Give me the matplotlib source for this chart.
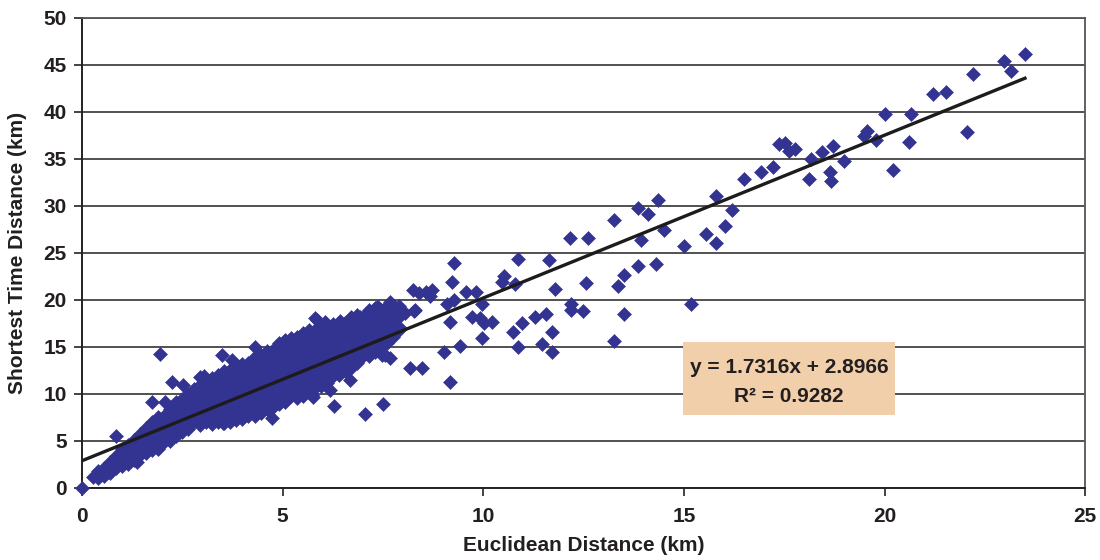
import matplotlib
matplotlib.use("Agg")
import matplotlib.pyplot as plt
from matplotlib.patches import Rectangle
import numpy as np

plt.rcParams['font.family'] = ['Liberation Sans', 'DejaVu Sans']

# dense body of the cloud, one column of points per x value
dense_cols = [
    (0.40, [1.1, 1.8]),
    (0.55, [1.3, 2.1]),
    (0.70, [1.6, 2.8]),
    (0.85, [2.1, 3.4]),
    (1.00, [2.3, 2.8, 4.2]),
    (1.15, [2.6, 3.5, 4.6]),
    (1.30, [3.0, 4.2, 5.1]),
    (1.45, [3.5, 4.9, 5.7]),
    (1.60, [3.7, 4.2, 5.6, 6.4]),
    (1.75, [4.0, 4.9, 6.3, 7.0]),
    (1.90, [4.2, 5.6, 7.0, 7.6]),
    (2.05, [4.9, 6.3, 7.7]),
    (2.20, [5.0, 5.6, 7.0, 8.4]),
    (2.35, [5.5, 6.3, 7.7, 9.1]),
    (2.50, [6.0, 7.0, 8.4, 9.5]),
    (2.65, [6.3, 7.7, 9.1, 10.0]),
    (2.80, [7.0, 8.4, 9.8, 10.5]),
    (2.95, [6.7, 7.7, 9.1, 10.5, 11.0]),
    (3.10, [7.0, 8.4, 9.8, 11.2]),
    (3.25, [6.8, 7.7, 9.1, 10.5, 11.7]),
    (3.40, [7.0, 8.4, 9.8, 11.2, 12.0]),
    (3.55, [6.9, 7.7, 9.1, 10.5, 11.9, 12.4]),
    (3.70, [7.0, 8.4, 9.8, 11.2, 12.6]),
    (3.85, [7.2, 7.7, 9.1, 10.5, 11.9, 12.9]),
    (4.00, [7.3, 8.4, 9.8, 11.2, 12.6, 13.2]),
    (4.15, [7.7, 9.1, 10.5, 11.9, 13.3]),
    (4.30, [7.7, 8.4, 9.8, 11.2, 12.6, 13.9]),
    (4.45, [8.0, 9.1, 10.5, 11.9, 13.3, 14.2]),
    (4.60, [8.4, 9.8, 11.2, 12.6, 14.0, 14.6]),
    (4.75, [8.6, 9.1, 10.5, 11.9, 13.3, 14.7]),
    (4.90, [8.9, 9.8, 11.2, 12.6, 14.0, 15.4]),
    (5.05, [9.1, 10.5, 11.9, 13.3, 14.7, 15.7]),
    (5.20, [9.8, 11.2, 12.6, 14.0, 15.4, 16.0]),
    (5.35, [9.6, 10.5, 11.9, 13.3, 14.7, 16.1]),
    (5.50, [9.8, 11.2, 12.6, 14.0, 15.4, 16.5]),
    (5.65, [10.5, 11.9, 13.3, 14.7, 16.1, 16.8]),
    (5.80, [10.6, 11.2, 12.6, 14.0, 15.4, 16.8]),
    (5.95, [10.9, 11.9, 13.3, 14.7, 16.1, 17.1]),
    (6.10, [11.2, 12.6, 14.0, 15.4, 16.8, 17.3]),
    (6.25, [11.9, 13.3, 14.7, 16.1, 17.4]),
    (6.40, [12.0, 12.6, 14.0, 15.4, 16.8, 17.6]),
    (6.55, [12.4, 13.3, 14.7, 16.1, 17.5]),
    (6.70, [12.8, 14.0, 15.4, 16.8, 18.2]),
    (6.85, [13.3, 14.7, 16.1, 17.5, 18.4]),
    (7.00, [14.0, 15.4, 16.8, 18.2]),
    (7.15, [14.0, 14.7, 16.1, 17.5, 18.9]),
    (7.30, [14.5, 15.4, 16.8, 18.2, 19.1]),
    (7.45, [14.9, 16.1, 17.5, 18.9]),
    (7.60, [15.4, 16.8, 18.2, 19.4]),
    (7.75, [16.1, 17.5, 18.9]),
    (7.90, [16.8, 18.2, 19.4]),
]

# scattered points outside the dense body
sparse_x = [0.0, 0.28, 0.86, 1.36, 1.74, 2.07, 1.95, 2.24, 2.53, 2.94, 3.03, 3.48, 3.73,
            4.31, 4.73, 4.69, 3.52, 5.73, 5.77, 5.81, 5.85, 6.06, 6.18, 6.27, 6.43, 6.43,
            6.68, 6.93, 7.06, 7.51, 7.47, 7.56, 7.68, 7.35, 7.39, 7.68, 7.85, 7.93,
            8.05, 8.28, 8.26, 8.39, 8.68, 8.72, 8.58, 8.30, 9.26, 9.22, 9.09, 9.26, 9.18,
            9.01, 9.43, 9.16, 8.18, 8.47, 9.58, 9.83, 9.97, 9.72, 9.93, 10.01, 10.22,
            9.97, 10.51, 10.47, 10.80, 10.86, 10.75, 10.96, 10.86, 11.30, 11.56, 11.46,
            11.71, 11.71, 11.65, 11.80, 12.15, 12.60, 12.19, 12.19, 12.48, 12.56, 13.25,
            13.35, 13.50, 15.19,
            13.25, 13.85, 14.10, 14.35, 14.50, 13.94, 13.85, 14.30, 13.50, 15.00, 15.54,
            15.79, 15.79, 16.03, 16.20, 16.49, 16.93, 17.22, 17.38, 17.53, 17.63, 17.78,
            18.13, 18.18, 18.43, 18.63, 18.67, 18.72, 18.99, 19.48, 19.57, 19.78, 20.02,
            20.21, 20.62, 20.66, 21.20, 21.52, 22.06, 22.21, 22.99, 23.16, 23.50]
sparse_y = [0.0, 1.2, 5.5, 2.8, 9.1, 9.2, 14.3, 11.3, 11.0, 11.8, 11.9, 14.1, 13.6,
            15.0, 7.4, 8.3, 6.9, 9.9, 9.7, 18.1, 17.9, 17.7, 10.4, 8.7, 13.1, 17.8,
            11.5, 18.2, 7.9, 8.9, 14.1, 14.1, 13.8, 19.3, 19.3, 19.8, 16.8, 17.0,
            18.6, 18.8, 21.1, 20.7, 20.4, 21.1, 20.9, 18.9, 23.9, 21.9, 19.6, 20.0, 17.7,
            14.5, 15.1, 11.3, 12.8, 12.8, 20.9, 20.9, 19.6, 18.2, 18.1, 17.5, 17.7,
            16.0, 22.5, 21.9, 21.7, 24.4, 16.6, 17.5, 15.0, 18.2, 18.5, 15.3,
            16.6, 14.5, 24.3, 21.2, 26.6, 26.6, 19.6, 18.9, 18.8, 21.8, 15.6,
            21.5, 18.5, 19.6,
            28.5, 29.8, 29.1, 30.6, 27.4, 26.4, 23.6, 23.8, 22.7, 25.7, 27.0,
            26.1, 31.1, 27.9, 29.6, 32.9, 33.6, 34.1, 36.6, 36.7, 35.9, 36.1,
            32.9, 35.0, 35.7, 33.6, 32.7, 36.4, 34.8, 37.4, 38.0, 37.0, 39.8,
            33.8, 36.8, 39.8, 41.9, 42.1, 37.9, 44.0, 45.4, 44.4, 46.2]

slope = 1.7316
intercept = 2.8966
r2 = 0.9282
fit_x = [0.0, 23.5]

xs = []
ys = []
for cx, col in dense_cols:
    for v in col:
        xs.append(cx)
        ys.append(v)
xs += sparse_x
ys += sparse_y

txt = '#231f20'

fig = plt.figure(figsize=(11, 5.6), dpi=100)
ax = fig.add_axes([0.0745, 0.1286, 0.912, 0.8393])

ax.set_xlim(0, 25)
ax.set_ylim(0, 50)
ax.set_xticks(np.arange(0, 26, 5))
ax.set_yticks(np.arange(0, 51, 5))

ax.yaxis.grid(True, color='#222222', linewidth=1.1)
ax.set_axisbelow(True)

ax.plot(xs, ys, linestyle='none', marker='D', markersize=7.4,
        color='#333391', markeredgewidth=0.4, markeredgecolor='#333391',
        zorder=3, clip_on=False)

fx = np.array(fit_x)
ax.plot(fx, slope * fx + intercept, color='#1c1c1c', linewidth=2.4, zorder=4)

for side in ['top', 'right']:
    ax.spines[side].set_color('#555555')
    ax.spines[side].set_linewidth(1.3)
for side in ['left', 'bottom']:
    ax.spines[side].set_color('#222222')
    ax.spines[side].set_linewidth(1.4)

ax.tick_params(axis='both', direction='out', length=6, width=1.2, color='#222222',
               labelsize=15, labelcolor=txt)
ax.tick_params(axis='x', pad=8)
ax.tick_params(axis='y', pad=5)
for lab in ax.get_xticklabels() + ax.get_yticklabels():
    lab.set_fontweight('bold')

ax.set_xlabel('Euclidean Distance (km)', fontsize=15, fontweight='bold', color=txt)
ax.set_ylabel('Shortest Time Distance (km)', fontsize=15, fontweight='bold', color=txt)
ax.xaxis.set_label_coords(0.5005, -0.103)
ax.yaxis.set_label_coords(-0.055, 0.5)

# equation box
ax.add_patch(Rectangle((14.97, 7.77), 5.29, 7.79, facecolor='#f2cfab',
                       edgecolor='none', zorder=5))
ax.text(17.62, 12.8, 'y = %.4fx + %.4f' % (slope, intercept), ha='center', va='center',
        fontsize=15, fontweight='bold', color=txt, zorder=6)
ax.text(17.62, 9.7, 'R\u00b2 = %.4f' % r2, ha='center', va='center',
        fontsize=15, fontweight='bold', color=txt, zorder=6)

fig.savefig('out.png', dpi=100)
